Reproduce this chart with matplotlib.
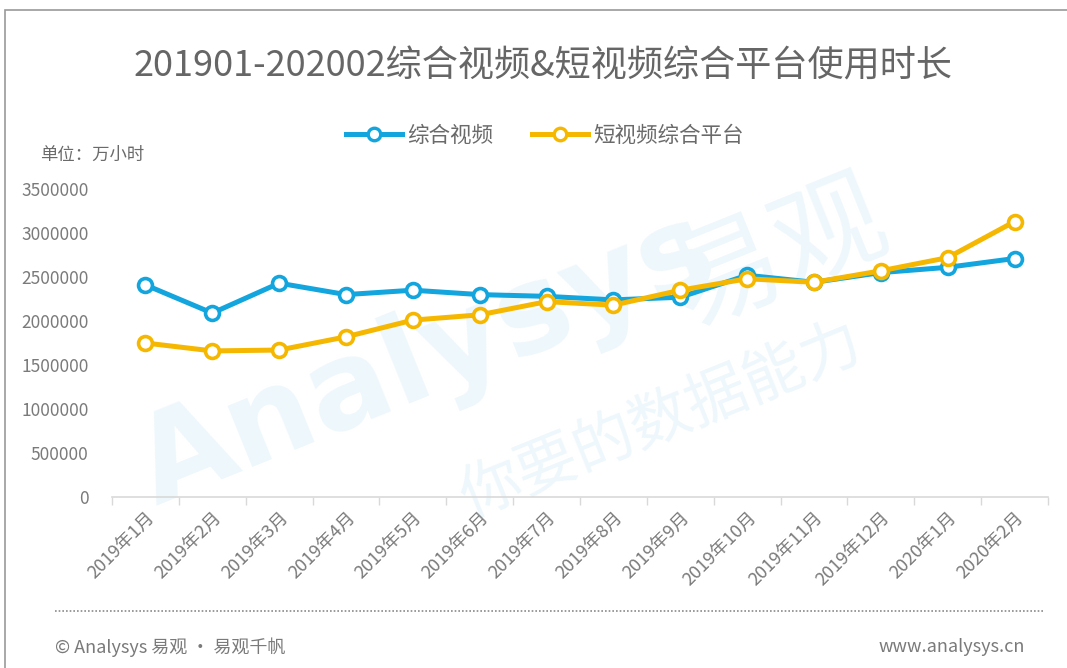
import matplotlib
matplotlib.use("Agg")
import matplotlib.pyplot as plt
from matplotlib.lines import Line2D
from matplotlib.patches import Rectangle

plt.rcParams['font.family'] = ['Noto Sans CJK SC', 'DejaVu Sans']

months = ["2019年1月", "2019年2月", "2019年3月", "2019年4月", "2019年5月", "2019年6月",
          "2019年7月", "2019年8月", "2019年9月", "2019年10月", "2019年11月", "2019年12月",
          "2020年1月", "2020年2月"]
zonghe = [2410000, 2090000, 2430000, 2300000, 2350000, 2300000, 2280000, 2240000,
          2270000, 2520000, 2440000, 2550000, 2610000, 2710000]
duan = [1750000, 1660000, 1670000, 1820000, 2010000, 2070000, 2220000, 2180000,
        2350000, 2480000, 2440000, 2570000, 2720000, 3130000]
yticks = [0, 500000, 1000000, 1500000, 2000000, 2500000, 3000000, 3500000]
series_names = ["综合视频", "短视频综合平台"]
colors = ["#12a5de", "#f5b700"]

W, H = 1067, 668
fig = plt.figure(figsize=(W / 100, H / 100), dpi=100)
fig.patch.set_facecolor("white")

# frame
fig.add_artist(Rectangle((5 / W, -0.01), 1.1, 1 - 10 / H + 0.01, transform=fig.transFigure,
                         fill=False, edgecolor="#9a9a9a", linewidth=1.2))

# faint watermark (behind everything)
wm = "#eef7fc"
fig.text(0.40, 0.46, "Analysys", fontsize=88, color=wm, rotation=22, ha="center", va="center",
         family="DejaVu Sans", fontweight="bold", zorder=-5)
fig.text(0.73, 0.62, "易观", fontsize=80, color=wm, rotation=22, ha="center", va="center", zorder=-5)
fig.text(0.62, 0.37, "你要的数据能力", fontsize=44, color=wm, rotation=22, ha="center", va="center",
         zorder=-5)

ax = fig.add_axes([112 / W, 1 - 497 / H, (1048 - 112) / W, (497 - 189) / H])
ax.set_facecolor("none")
x = list(range(len(months)))
for vals, c in zip([zonghe, duan], colors):
    ax.plot(x, vals, color=c, linewidth=3.6, marker="o", markersize=10,
            markerfacecolor="white", markeredgecolor=c, markeredgewidth=2.6,
            solid_joinstyle="round", zorder=3)

ax.set_xlim(-0.5, len(months) - 0.5)
ax.set_ylim(0, 3500000)
ax.set_yticks(yticks)
ax.set_yticklabels([str(v) for v in yticks], fontsize=12.5, color="#7a7a7a")
ax.set_xticks(x)
ax.set_xticklabels(months, rotation=45, ha="right", rotation_mode="anchor",
                   fontsize=13, color="#7a7a7a")
ax.tick_params(axis="x", length=0, pad=8)
ax.tick_params(axis="y", length=0, pad=17)
ax.set_xticks([i - 0.5 for i in range(len(months) + 1)], minor=True)
ax.tick_params(axis="x", which="minor", length=6, color="#d9d9d9", width=1)
for s in ["top", "right", "left"]:
    ax.spines[s].set_visible(False)
ax.spines["bottom"].set_color("#d9d9d9")
ax.spines["bottom"].set_linewidth(1.2)

fig.text(543 / W, 1 - 66 / H, "201901-202002综合视频&短视频综合平台使用时长",
         fontsize=26, color="#666666", ha="center", va="center", fontweight="light")

handles = [Line2D([0], [0], color=c, linewidth=3.6, marker="o", markersize=9,
                  markerfacecolor="white", markeredgecolor=c, markeredgewidth=2.4)
           for c in colors]
leg = fig.legend(handles, series_names, loc="center", bbox_to_anchor=(545 / W, 1 - 136 / H),
                 ncol=2, frameon=False, fontsize=15.5, handlelength=2.6, columnspacing=1.8,
                 handletextpad=0.25)
for t in leg.get_texts():
    t.set_color("#6a6a6a")

fig.text(40 / W, 1 - 155 / H, "单位：万小时", fontsize=12.5, color="#6a6a6a", ha="left", va="center")

fig.add_artist(Line2D([55 / W, 1045 / W], [1 - 611 / H, 1 - 611 / H], transform=fig.transFigure,
                      color="#8a8a8a", linestyle=(0, (1, 1.2)), linewidth=1.2))
fig.text(55 / W, 1 - 647 / H, "© Analysys 易观 · 易观千帆", fontsize=13, color="#7a7a7a",
         ha="left", va="center")
fig.text(1025 / W, 1 - 647 / H, "www.analysys.cn", fontsize=13, color="#7a7a7a",
         ha="right", va="center")

fig.savefig("out.png", dpi=100)
